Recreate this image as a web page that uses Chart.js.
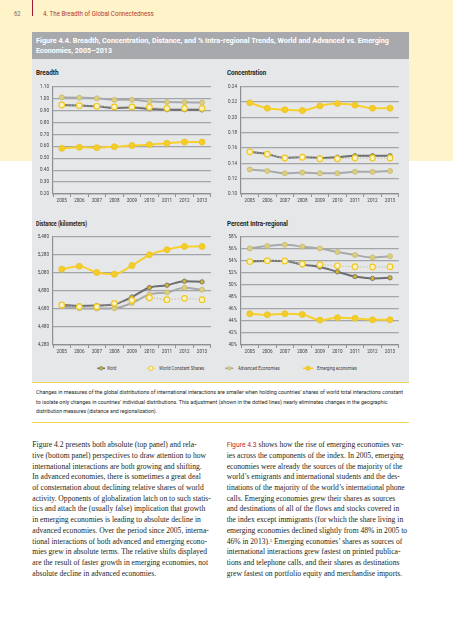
<!DOCTYPE html>
<html><head><meta charset="utf-8">
<script src="https://cdn.jsdelivr.net/npm/chart.js@4.4.1/dist/chart.umd.min.js"></script>
<style>
html,body{margin:0;padding:0;background:#fff;width:453px;height:640px;overflow:hidden;}
body{position:relative;font-family:Roboto,'Liberation Sans',sans-serif;}
.box{position:absolute;}
.t{position:absolute;white-space:nowrap;line-height:1;transform-origin:0 50%;}
.sans{font-family:'Liberation Sans Narrow',Roboto,'Liberation Sans',sans-serif;}
.serif{font-family:'Liberation Serif','DejaVu Serif',serif;color:#231f20;font-size:7.6px;}
canvas{position:absolute;}
</style>
</head><body>
<div class="box" style="left:0;top:0;width:453px;height:161px;background:#fff3c9;"></div>
<div class="box" style="left:32px;top:0;width:1.3px;height:16px;background:#9e1b32;"></div>
<div class="t sans fit" data-w="6.7" style="left:14px;top:10.7px;font-size:6.6px;color:#6d6e71;">62</div>
<div class="t sans fit" data-w="110.7" style="left:43.3px;top:10.7px;font-size:6.6px;color:#b23a2e;">4. The Breadth of Global Connectedness</div>

<div class="box" style="left:32.3px;top:32.3px;width:377px;height:26.7px;background:#a7a9ac;"></div>
<div class="t sans fit" data-w="353" style="left:35.7px;top:38.2px;font-size:7px;font-weight:bold;color:#fff;">Figure 4.4. Breadth, Concentration, Distance, and % Intra-regional Trends, World and Advanced vs. Emerging</div>
<div class="t sans fit" data-w="76" style="left:35.7px;top:47.5px;font-size:7px;font-weight:bold;color:#fff;">Economies, 2005–2013</div>

<div class="box" style="left:32.3px;top:59px;width:377px;height:322.7px;background:#e6e7e8;"></div>
<div class="box" style="left:32.3px;top:381.7px;width:377px;height:1.6px;background:#f5d35a;"></div>
<div class="box" style="left:32.3px;top:421.5px;width:377px;height:1.4px;background:#f5d35a;"></div>

<div class="t sans fit" data-w="22.6" style="left:35.7px;top:70.1px;font-size:6.4px;font-weight:bold;color:#231f20;">Breadth</div>
<div class="t sans fit" data-w="39.3" style="left:226.7px;top:69.8px;font-size:6.4px;font-weight:bold;color:#231f20;">Concentration</div>
<div class="t sans fit" data-w="51" style="left:35.7px;top:220.8px;font-size:6.4px;font-weight:bold;color:#231f20;">Distance (kilometers)</div>
<div class="t sans fit" data-w="61" style="left:226.7px;top:220.8px;font-size:6.4px;font-weight:bold;color:#231f20;">Percent Intra-regional</div>

<canvas id="cBreadth" width="186" height="124" style="left:30px;top:80px;"></canvas>
<canvas id="cConc" width="186" height="124" style="left:218px;top:80px;"></canvas>
<canvas id="cDist" width="186" height="125" style="left:30px;top:230px;"></canvas>
<canvas id="cPct" width="186" height="125" style="left:218px;top:230px;"></canvas>

<!-- legend -->
<svg class="box" style="left:0;top:362px;" width="453" height="12">
  <line x1="97.3" y1="6.3" x2="105" y2="6.3" stroke="#6d6e71" stroke-width="1.6"/>
  <circle cx="101.2" cy="6.3" r="1.8" fill="#d6b52a" stroke="#6d6e71" stroke-width="0.6"/>
  <line x1="146.7" y1="6.3" x2="155" y2="6.3" stroke="#f2c81e" stroke-width="1" stroke-dasharray="1,1.5"/>
  <circle cx="150.9" cy="6.3" r="2.2" fill="#fbf3c8" stroke="#f2c81e" stroke-width="1"/>
  <line x1="225" y1="6.3" x2="233.3" y2="6.3" stroke="#a7a9ac" stroke-width="1.6"/>
  <circle cx="229.2" cy="6.3" r="1.8" fill="#d9cc7a" stroke="#bdb27a" stroke-width="0.6"/>
  <line x1="302.7" y1="6.3" x2="313.3" y2="6.3" stroke="#f7d02e" stroke-width="1.6"/>
  <circle cx="308" cy="6.3" r="2.2" fill="#f5cd2a" stroke="#e8bf1f" stroke-width="0.6"/>
</svg>
<div class="t sans fit" data-w="9.4" style="left:107.3px;top:365.8px;font-size:5px;color:#414042;">World</div>
<div class="t sans fit" data-w="45.3" style="left:158.7px;top:365.8px;font-size:5px;color:#414042;">World Constant Shares</div>
<div class="t sans fit" data-w="41.7" style="left:238.3px;top:365.8px;font-size:5px;color:#414042;">Advanced Economies</div>
<div class="t sans fit" data-w="40" style="left:316.7px;top:365.8px;font-size:5px;color:#414042;">Emerging economies</div>

<!-- caption -->
<div class="t sans fit" data-w="367" style="left:35.7px;top:389.5px;font-size:5.5px;color:#231f20;">Changes in measures of the global distributions of international interactions are smaller when holding countries’ shares of world total interactions constant</div>
<div class="t sans fit" data-w="351.6" style="left:35.7px;top:399.9px;font-size:5.5px;color:#231f20;">to isolate only changes in countries’ individual distributions. This adjustment (shown in the dotted lines) nearly eliminates changes in the geographic</div>
<div class="t sans fit" data-w="121" style="left:35.7px;top:409.2px;font-size:5.5px;color:#231f20;">distribution measures (distance and regionalization).</div>

<!-- body text -->
<div id="bodyText"></div>

<script>
// ---------- DATA ----------
const years = ['2005','2006','2007','2008','2009','2010','2011','2012','2013'];

const breadthTicks = [0.2,0.3,0.4,0.5,0.6,0.7,0.8,0.9,1.0,1.1];
const breadthWorld = [0.947,0.942,0.936,0.922,0.925,0.914,0.908,0.908,0.906];
const breadthConst = [0.947,0.942,0.936,0.931,0.931,0.928,0.919,0.919,0.919];
const breadthAdv   = [1.011,1.008,1.003,0.990,0.990,0.978,0.972,0.970,0.967];
const breadthEmg   = [0.583,0.592,0.589,0.597,0.606,0.614,0.625,0.636,0.636];

const concTicks = [0.10,0.12,0.14,0.16,0.18,0.20,0.22,0.24];
const concWorld = [0.155,0.152,0.147,0.148,0.147,0.148,0.150,0.150,0.150];
const concConst = [0.155,0.152,0.147,0.148,0.146,0.146,0.147,0.147,0.147];
const concAdv   = [0.132,0.130,0.127,0.128,0.127,0.127,0.129,0.129,0.130];
const concEmg   = [0.219,0.212,0.210,0.209,0.215,0.218,0.216,0.212,0.212];

const distTicks = [4280,4480,4680,4880,5080,5280,5480];
const distWorld = [4724,4713,4717,4731,4812,4917,4943,4987,4980];
const distConst = [4724,4705,4705,4742,4775,4804,4782,4797,4782];
const distAdv   = [4709,4687,4684,4687,4746,4841,4863,4914,4892];
const distEmg   = [5120,5153,5084,5065,5160,5280,5336,5373,5373];

const pctTicks = [40,42,44,46,48,50,52,54,56,58];
const pctWorld = [53.9,54.05,54.0,53.4,53.0,52.2,51.4,51.1,51.2];
const pctConst = [53.9,54.05,54.0,53.5,53.4,53.2,53.05,53.0,53.05];
const pctAdv   = [56.1,56.5,56.7,56.4,56.1,55.5,55.0,54.6,54.8];
const pctEmg   = [45.2,45.05,45.2,45.1,44.15,44.55,44.45,44.2,44.2];

// ---------- BODY TEXT ----------
const leftLines = [
 'Figure 4.2 presents both absolute (top panel) and rela-',
 'tive (bottom panel) perspectives to draw attention to how',
 'international interactions are both growing and shifting.',
 'In advanced economies, there is sometimes a great deal',
 'of consternation about declining relative shares of world',
 'activity. Opponents of globalization latch on to such statis-',
 'tics and attach the (usually false) implication that growth',
 'in emerging economies is leading to absolute decline in',
 'advanced economies. Over the period since 2005, interna-',
 'tional interactions of both advanced and emerging econo-',
 'mies grew in absolute terms. The relative shifts displayed',
 'are the result of faster growth in emerging economies, not',
 'absolute decline in advanced economies.'
];
const rightLines = [
 '<span style="color:#c0272d;font-family:Roboto,sans-serif;font-size:6.8px;">Figure 4.3</span> shows how the rise of emerging economies var-',
 'ies across the components of the index. In 2005, emerging',
 'economies were already the sources of the majority of the',
 'world’s emigrants and international students and the des-',
 'tinations of the majority of the world’s international phone',
 'calls. Emerging economies grew their shares as sources',
 'and destinations of all of the flows and stocks covered in',
 'the index except immigrants (for which the share living in',
 'emerging economies declined slightly from 48% in 2005 to',
 '46% in 2013).<sup style="font-size:4.5px;vertical-align:2.5px;">5</sup> Emerging economies’ shares as sources of',
 'international interactions grew fastest on printed publica-',
 'tions and telephone calls, and their shares as destinations',
 'grew fastest on portfolio equity and merchandise imports.'
];
const lineY = [445,455.7,466.7,477.3,488,498.7,509.3,520,531,541.7,552.3,563.3,574];
const bt = document.getElementById('bodyText');
leftLines.forEach((s,i)=>{
  const d=document.createElement('div'); d.className='t serif'; d.innerHTML=s;
  d.style.left='32.3px'; d.style.top=(lineY[i]-3.9)+'px'; bt.appendChild(d);
});
rightLines.forEach((s,i)=>{
  const d=document.createElement('div'); d.className='t serif'; d.innerHTML=s;
  d.style.left='226.7px'; d.style.top=(lineY[i]-3.9)+'px'; bt.appendChild(d);
});

// fit sans text widths
document.querySelectorAll('.fit').forEach(el=>{
  const w = el.getBoundingClientRect().width;
  const target = parseFloat(el.dataset.w);
  if (w>0) el.style.transform = 'scaleX(' + (target/w) + ')';
});

// ---------- CHARTS ----------
const F = "'Liberation Sans Narrow', Roboto, 'Liberation Sans', sans-serif";
function makeChart(id, ticks, fmt, world, cons, adv, emg, padTop){
  new Chart(document.getElementById(id), {
    type:'line',
    data:{labels:years, datasets:[
      {label:'World Constant Shares', data:cons, borderColor:'#b9b6a6', borderWidth:1, borderDash:[1.2,1.8],
       pointRadius:2.8, pointBackgroundColor:'#fbf3c8', pointBorderColor:'#f2c81e', pointBorderWidth:1.2, cubicInterpolationMode:'monotone'},
      {label:'World', data:world, borderColor:'#6d6e71', borderWidth:2,
       pointRadius:2.2, pointBackgroundColor:'#d6b52a', pointBorderColor:'#6d6e71', pointBorderWidth:0.8, cubicInterpolationMode:'monotone'},
      {label:'Advanced Economies', data:adv, borderColor:'#a7a9ac', borderWidth:2,
       pointRadius:2.5, pointBackgroundColor:'#ddd07c', pointBorderColor:'#c4b772', pointBorderWidth:0.8, cubicInterpolationMode:'monotone'},
      {label:'Emerging economies', data:emg, borderColor:'#f7d02e', borderWidth:2,
       pointRadius:3, pointBackgroundColor:'#f5cd2a', pointBorderColor:'#ebc21f', pointBorderWidth:0.8, cubicInterpolationMode:'monotone'}
    ]},
    options:{
      responsive:false, animation:false, devicePixelRatio:1,
      layout:{padding:{top:padTop,right:3,left:0,bottom:0}},
      plugins:{legend:{display:false}, tooltip:{enabled:false}},
      scales:{
        x:{offset:true,
           grid:{display:true, drawOnChartArea:false, drawTicks:true, tickLength:3, color:'#8d8f92', lineWidth:1, offset:true},
           border:{display:true, color:'#8d8f92', width:1.2},
           ticks:{font:{size:4.6, family:F}, color:'#414042', padding:1, maxRotation:0, autoSkip:false},
           afterFit:s=>{s.height=10;}},
        y:{min:ticks[0], max:ticks[ticks.length-1],
           afterBuildTicks:a=>{a.ticks = ticks.map(v=>({value:v}));},
           grid:{color:'#a3a5a8', lineWidth:1.3, drawTicks:false},
           border:{display:true, color:'#8d8f92', width:1.2},
           ticks:{font:{size:4.6, family:F}, color:'#414042', padding:4, callback:fmt},
           afterFit:s=>{s.width=23;}}
      }
    }
  });
}
makeChart('cBreadth', breadthTicks, v=>Number(v).toFixed(2), breadthWorld, breadthConst, breadthAdv, breadthEmg, 6);
makeChart('cConc', concTicks, v=>Number(v).toFixed(2), concWorld, concConst, concAdv, concEmg, 6);
makeChart('cDist', distTicks, v=>Number(v).toLocaleString('en-US'), distWorld, distConst, distAdv, distEmg, 6);
makeChart('cPct', pctTicks, v=>v+'%', pctWorld, pctConst, pctAdv, pctEmg, 7);
</script>
</body></html>
